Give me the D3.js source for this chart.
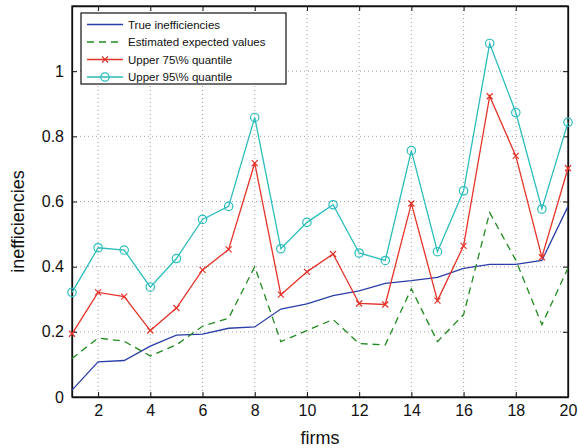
<!DOCTYPE html>
<html>
<head>
<meta charset="utf-8">
<script src="https://cdn.jsdelivr.net/npm/d3@7"></script>
<style>
  body { margin: 0; background: #fff; }
  svg text { font-family: "Liberation Sans", Arial, sans-serif; fill: #111; }
</style>
</head>
<body>
<div id="chart"></div>
<script>
var firms = d3.range(1, 21);
var trueIneff = [0.021, 0.108, 0.112, 0.156, 0.190, 0.193, 0.211, 0.215, 0.270, 0.286,
                 0.311, 0.326, 0.349, 0.357, 0.367, 0.395, 0.407, 0.407, 0.419, 0.585];
var estExpected = [0.118, 0.181, 0.171, 0.126, 0.160, 0.217, 0.242, 0.400, 0.170, 0.204,
                   0.238, 0.164, 0.160, 0.332, 0.170, 0.253, 0.566, 0.420, 0.222, 0.396];
var upper75 = [0.194, 0.321, 0.308, 0.204, 0.273, 0.390, 0.453, 0.718, 0.314, 0.384,
               0.439, 0.287, 0.284, 0.594, 0.296, 0.464, 0.923, 0.740, 0.429, 0.702];
var upper95 = [0.321, 0.458, 0.451, 0.337, 0.425, 0.545, 0.585, 0.858, 0.455, 0.536,
               0.590, 0.442, 0.419, 0.756, 0.446, 0.633, 1.085, 0.873, 0.577, 0.843];
var xTicks = [2, 4, 6, 8, 10, 12, 14, 16, 18, 20];
var yTicks = [0, 0.2, 0.4, 0.6, 0.8, 1];

var series = [
    {name: "True inefficiencies", values: trueIneff, color: "#2a3ea8", dash: null, marker: null},
    {name: "Estimated expected values", values: estExpected, color: "#1f8a1f", dash: "7,5", marker: null},
    {name: "Upper 75\\% quantile", values: upper75, color: "#e5332a", dash: null, marker: "x"},
    {name: "Upper 95\\% quantile", values: upper95, color: "#2bbdbd", dash: null, marker: "o"}
];

var width = 578, height = 448;
var margin = {top: 6, right: 10, bottom: 51, left: 72};
var w = width - margin.left - margin.right;
var h = height - margin.top - margin.bottom;

var svg = d3.select("#chart").append("svg")
    .attr("width", width)
    .attr("height", height);

var g = svg.append("g")
    .attr("transform", "translate(" + margin.left + "," + margin.top + ")");

var x = d3.scaleLinear().domain([1, 20]).range([0, w]);
var y = d3.scaleLinear().domain([0, 1.2]).range([h, 0]);

// dotted grid
g.selectAll(".gx").data(xTicks).enter().append("line")
    .attr("x1", d => x(d)).attr("x2", d => x(d))
    .attr("y1", 0).attr("y2", h)
    .attr("stroke", "#888").attr("stroke-width", 0.8)
    .attr("stroke-dasharray", "1,3");
g.selectAll(".gy").data(yTicks).enter().append("line")
    .attr("y1", d => y(d)).attr("y2", d => y(d))
    .attr("x1", 0).attr("x2", w)
    .attr("stroke", "#888").attr("stroke-width", 0.8)
    .attr("stroke-dasharray", "1,3");

// axes (ticks inward, mirrored on top/right)
var fmt = d => d === 0 || d === 1 ? String(d) : d3.format(".1f")(d);
var xAxis = d3.axisBottom(x).tickValues(xTicks).tickSizeInner(-5).tickSizeOuter(0).tickPadding(8);
var yAxis = d3.axisLeft(y).tickValues(yTicks).tickFormat(fmt).tickSizeInner(-5).tickSizeOuter(0).tickPadding(8);

g.append("g").attr("transform", "translate(0," + h + ")").call(xAxis)
    .call(s => s.selectAll("text").style("font-size", "16px"));
g.append("g").call(yAxis)
    .call(s => s.selectAll("text").style("font-size", "16px"));
g.append("g").call(d3.axisTop(x).tickValues(xTicks).tickSizeInner(-5).tickSizeOuter(0).tickFormat(""));
g.append("g").attr("transform", "translate(" + w + ",0)")
    .call(d3.axisRight(y).tickValues(yTicks).tickSizeInner(-5).tickSizeOuter(0).tickFormat(""));
g.selectAll(".domain").attr("stroke", "#111").attr("stroke-width", 1.3);
g.selectAll(".tick line").attr("stroke", "#111");

g.append("rect").attr("width", w).attr("height", h)
    .attr("fill", "none").attr("stroke", "#111").attr("stroke-width", 1.3);

// series
var line = d3.line().x((d, i) => x(firms[i])).y(d => y(d));
series.forEach(function (s) {
    g.append("path").datum(s.values)
        .attr("fill", "none")
        .attr("stroke", s.color)
        .attr("stroke-width", 1.3)
        .attr("stroke-dasharray", s.dash)
        .attr("d", line);
    if (s.marker === "o") {
        g.selectAll(null).data(s.values).enter().append("circle")
            .attr("cx", (d, i) => x(firms[i])).attr("cy", d => y(d))
            .attr("r", 4.2).attr("fill", "none")
            .attr("stroke", s.color).attr("stroke-width", 1.2);
    } else if (s.marker === "x") {
        g.selectAll(null).data(s.values).enter().append("path")
            .attr("d", (d, i) => {
                var cx = x(firms[i]), cy = y(d), r = 3;
                return "M" + (cx - r) + "," + (cy - r) + "L" + (cx + r) + "," + (cy + r) +
                       "M" + (cx - r) + "," + (cy + r) + "L" + (cx + r) + "," + (cy - r);
            })
            .attr("stroke", s.color).attr("stroke-width", 1.2);
    }
});

// legend
var lg = svg.append("g").attr("transform", "translate(81,13)");
lg.append("rect").attr("width", 205).attr("height", 71)
    .attr("fill", "#fff").attr("stroke", "#111").attr("stroke-width", 1.2);
series.forEach(function (s, i) {
    var yy = 11.5 + i * 17.5;
    lg.append("line").attr("x1", 6).attr("x2", 42).attr("y1", yy).attr("y2", yy)
        .attr("stroke", s.color).attr("stroke-width", 1.3)
        .attr("stroke-dasharray", s.dash);
    if (s.marker === "o") {
        lg.append("circle").attr("cx", 24).attr("cy", yy).attr("r", 4.2)
            .attr("fill", "none").attr("stroke", s.color).attr("stroke-width", 1.2);
    } else if (s.marker === "x") {
        lg.append("path").attr("d", "M21," + (yy - 3) + "L27," + (yy + 3) + "M21," + (yy + 3) + "L27," + (yy - 3))
            .attr("stroke", s.color).attr("stroke-width", 1.2);
    }
    lg.append("text").attr("x", 47).attr("y", yy).attr("dy", "0.35em")
        .style("font-size", "11.5px").text(s.name);
});

// axis labels
svg.append("text")
    .attr("x", margin.left + w / 2).attr("y", height - 4)
    .attr("text-anchor", "middle").style("font-size", "18px").text("firms");
svg.append("text")
    .attr("transform", "translate(24," + (margin.top + h / 2 + 20) + ") rotate(-90)")
    .attr("text-anchor", "middle").style("font-size", "18px").text("inefficiencies");
</script>
</body>
</html>
